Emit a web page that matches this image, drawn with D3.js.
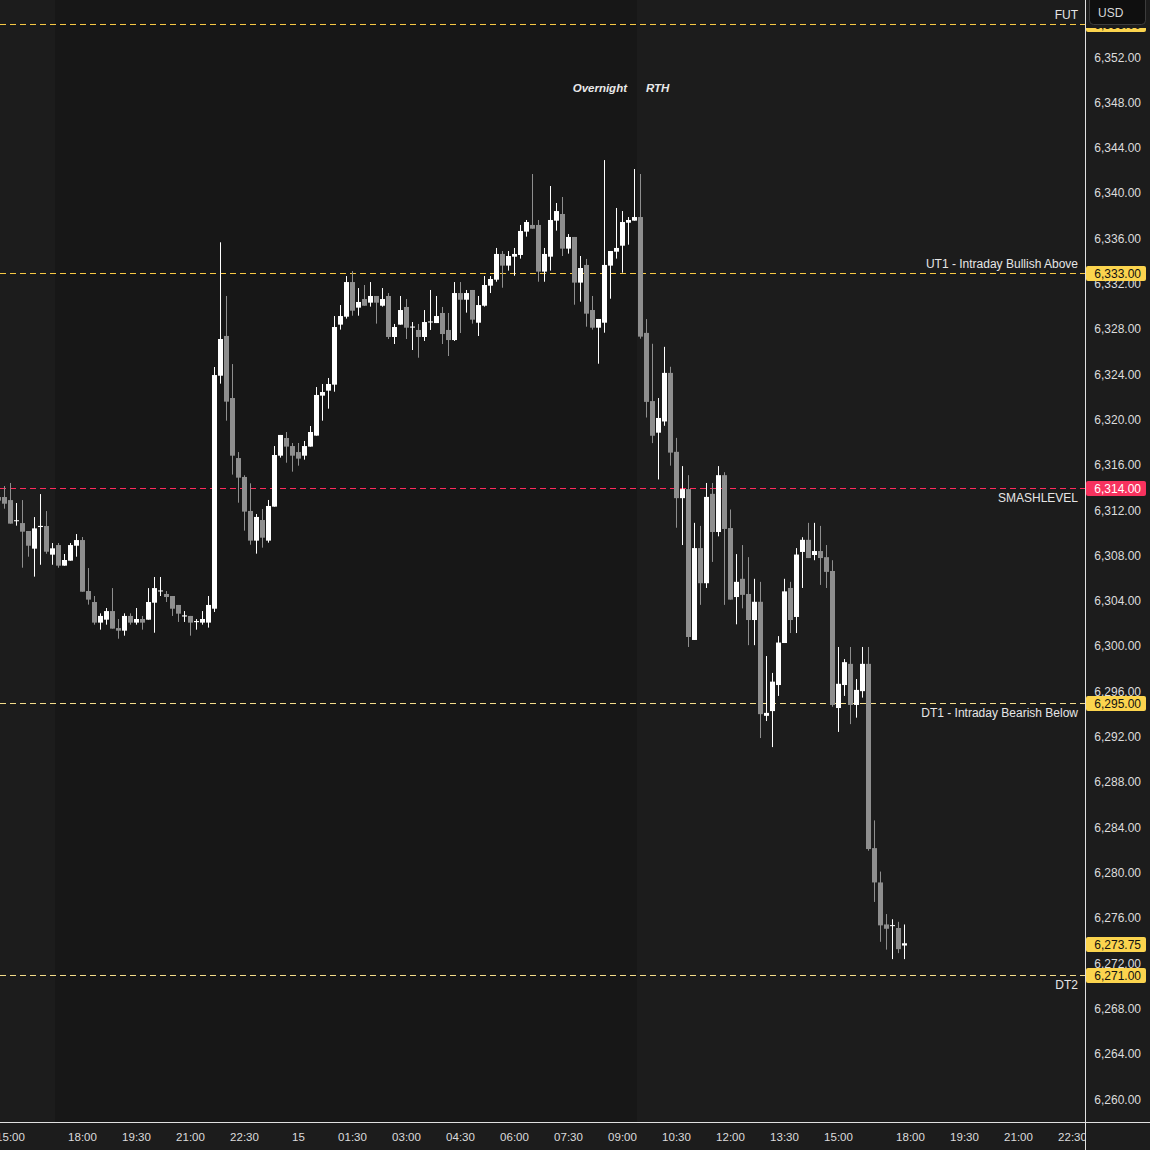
<!DOCTYPE html>
<html>
<head>
<meta charset="utf-8">
<script src="https://cdn.jsdelivr.net/npm/d3@7/dist/d3.min.js"></script>
<style>
  html, body { margin: 0; padding: 0; background: #1c1c1c; }
  svg { display: block; font-family: "Liberation Sans", Arial, sans-serif; }
</style>
</head>
<body>
<svg id="chart" width="1150" height="1150"></svg>
<script>
// 10 minute ES bars, index 0 = 18:00 open of the 15th
const firstBar = -14;
const opens = [6313.15,6313.15,6312.88,6311.05,6310.85,6310.15,6308.59,6310.50,6310.59,6308.06,6308.91,6307.09,6307.53,6308.85,
  6309.35,6304.85,6303.88,6302.06,6302.32,6303.08,6301.58,6301.35,6302.65,6302.06,6302.38,6302.32,6303.82,6304.85,6304.59,6304.41,
  6303.62,6302.60,6302.65,6302.10,6302.06,6302.06,6303.29,6323.86,6327.37,6321.89,6316.59,6314.92,6311.92,6309.30,6311.12,6309.30,
  6312.30,6316.80,6318.36,6317.65,6317.12,6316.80,6317.60,6318.57,6322.10,6322.54,6323.07,6328.37,6329.07,6332.13,6329.87,6330.63,
  6330.31,6330.90,6330.04,6330.90,6327.28,6328.37,6329.93,6328.13,6327.90,6327.28,6328.60,6328.51,6329.40,6327.90,6327.01,6331.16,
  6330.57,6331.43,6328.54,6330.04,6331.81,6332.34,6334.61,6333.58,6334.37,6334.52,6336.58,6337.17,6337.17,6333.05,6334.37,6337.55,
  6338.14,6335.08,6336.11,6332.08,6333.64,6329.66,6328.10,6328.54,6333.58,6334.81,6335.34,6337.37,6337.55,6337.87,6327.64,6321.62,
  6318.83,6319.82,6324.11,6317.14,6313.05,6313.85,6300.53,6308.64,6305.54,6313.43,6310.06,6315.08,6310.41,6304.32,6305.93,6304.59,
  6302.29,6303.90,6293.83,6294.25,6296.55,6300.26,6305.12,6302.56,6308.30,6309.37,6308.03,6308.38,6307.84,6306.62,6294.52,6296.55,
  6298.42,6294.79,6296.01,6298.42,6282.15,6279.12,6275.41,6275.30,6275.10,6273.55];
const highs = [6314.00,6314.12,6314.39,6312.62,6312.88,6310.15,6311.38,6313.41,6311.91,6309.09,6309.09,6308.12,6309.09,6309.88,
  6309.62,6306.88,6304.41,6302.88,6303.35,6305.11,6302.38,6302.88,6302.88,6303.35,6302.65,6305.11,6306.09,6306.09,6304.85,6304.41,
  6303.62,6303.08,6302.65,6302.38,6303.08,6304.41,6324.63,6335.64,6330.90,6324.89,6317.12,6315.07,6314.36,6311.65,6312.09,6312.89,
  6317.65,6318.63,6318.89,6317.92,6317.92,6318.10,6319.42,6322.86,6323.13,6323.66,6329.13,6330.10,6332.66,6333.10,6331.60,6331.87,
  6332.13,6330.90,6331.60,6331.16,6328.43,6330.90,6330.63,6328.60,6328.43,6329.66,6331.43,6330.90,6329.93,6329.40,6332.13,6332.13,
  6331.43,6331.43,6330.90,6332.66,6332.66,6335.14,6334.87,6334.87,6335.14,6337.17,6337.61,6341.67,6337.61,6335.14,6340.61,6339.11,
  6339.64,6336.37,6336.11,6334.43,6334.17,6330.90,6328.87,6342.90,6334.87,6338.67,6338.40,6337.87,6342.11,6341.67,6328.86,6326.68,
  6321.89,6326.41,6324.65,6318.37,6315.88,6315.08,6310.87,6310.60,6314.39,6314.39,6315.88,6315.34,6312.05,6308.11,6308.91,6307.84,
  6305.93,6305.66,6299.11,6297.62,6300.87,6305.93,6305.66,6308.64,6309.60,6310.87,6310.87,6310.60,6308.91,6307.57,6299.91,6298.84,
  6299.91,6297.08,6299.91,6299.91,6284.60,6280.08,6276.33,6275.87,6275.64,6275.41];
const lows = [6312.70,6312.12,6310.80,6310.62,6306.91,6307.88,6306.12,6307.17,6308.14,6307.17,6306.91,6307.09,6307.53,6307.88,
  6304.79,6303.65,6301.88,6301.44,6301.88,6301.53,6300.64,6300.91,6301.88,6301.88,6301.44,6302.32,6301.17,6304.41,6303.88,6302.65,
  6302.12,6302.12,6300.91,6301.44,6301.88,6301.62,6303.00,6323.16,6319.89,6315.13,6312.65,6310.18,6308.94,6308.15,6308.68,6309.12,
  6312.30,6316.63,6316.18,6315.39,6315.92,6316.45,6317.60,6318.57,6319.89,6320.95,6322.45,6327.93,6328.90,6329.16,6329.16,6330.04,
  6329.96,6328.46,6329.96,6327.10,6326.66,6328.37,6327.10,6326.13,6325.45,6326.93,6327.90,6328.51,6326.66,6325.60,6326.93,6327.63,
  6329.43,6328.46,6327.37,6329.96,6331.16,6332.16,6331.63,6333.14,6332.69,6334.20,6336.14,6336.84,6332.16,6332.16,6333.14,6336.67,
  6334.43,6334.64,6330.13,6330.40,6328.19,6327.93,6324.92,6327.66,6330.66,6334.20,6332.96,6335.43,6337.55,6327.13,6320.17,6317.91,
  6314.70,6319.44,6315.92,6310.44,6308.91,6299.91,6300.53,6303.63,6305.12,6307.42,6309.68,6303.63,6304.09,6301.91,6303.32,6300.07,
  6300.07,6291.87,6293.37,6291.07,6295.59,6300.26,6301.14,6301.14,6305.12,6307.76,6307.57,6305.39,6305.12,6294.63,6292.41,6295.59,
  6293.10,6293.67,6295.44,6281.92,6277.40,6273.88,6273.19,6272.35,6272.88,6272.35];
const closes = [6312.83,6312.56,6310.80,6311.10,6310.09,6308.85,6310.38,6310.60,6308.32,6308.62,6307.09,6307.59,6308.91,6309.35,
  6304.79,6304.09,6302.06,6302.65,6303.08,6301.53,6301.35,6302.65,6302.06,6302.38,6302.06,6303.88,6305.11,6304.90,6304.32,6303.29,
  6302.85,6302.70,6302.06,6302.20,6302.38,6303.62,6323.92,6327.10,6321.57,6316.80,6314.86,6311.86,6309.30,6311.39,6309.56,6312.36,
  6316.86,6318.63,6317.60,6316.80,6316.54,6317.65,6318.89,6322.16,6322.42,6323.13,6328.16,6329.13,6332.13,6329.60,6330.37,6330.04,
  6330.90,6330.31,6330.63,6327.28,6328.16,6329.66,6328.10,6328.20,6327.28,6328.60,6328.65,6329.13,6327.54,6327.01,6331.16,6330.57,
  6331.16,6328.81,6330.10,6331.87,6332.40,6334.61,6333.58,6334.43,6334.61,6336.64,6337.43,6336.84,6333.05,6334.61,6337.61,6338.40,
  6335.08,6336.11,6332.08,6333.37,6329.34,6328.10,6328.87,6333.64,6334.87,6335.14,6337.43,6337.61,6337.87,6327.31,6321.55,6318.56,
  6320.13,6324.11,6317.07,6313.05,6313.85,6300.79,6308.64,6305.54,6313.16,6310.06,6315.08,6310.33,6304.09,6305.66,6304.51,6302.29,
  6303.90,6293.98,6294.09,6296.85,6300.30,6304.82,6302.29,6308.07,6309.37,6307.76,6308.38,6307.76,6306.54,6294.79,6296.66,6298.57,
  6294.79,6296.12,6298.42,6282.07,6279.12,6275.33,6275.03,6275.35,6273.23,6273.75];

// time axis (bar index -> label)
const timeTickIdx = [-12, 0, 9, 18, 27, 36, 45, 54, 63, 72, 81, 90, 99, 108, 117, 126, 138, 147, 156, 165];
const timeTickLabels = ["15:00","18:00","19:30","21:00","22:30","15","01:30","03:00","04:30","06:00","07:30",
  "09:00","10:30","12:00","13:30","15:00","18:00","19:30","21:00","22:30"];

const priceTicks = [6260,6264,6268,6272,6276,6280,6284,6288,6292,6296,6300,6304,6308,6312,6316,6320,
  6324,6328,6332,6336,6340,6344,6348,6352,6356];

// overnight session span (bar index units)
const overnightStart = [-4.5];
const overnightEnd = [92.5];

// key levels
const levelNames = ["FUT", "UT1 - Intraday Bullish Above", "SMASHLEVEL", "DT1 - Intraday Bearish Below", "DT2"];
const levelValues = [6355, 6333, 6314, 6295, 6271];
const levelTextBelow = [false, false, true, true, true];
const levelColors = ["#f7c843", "#f7c843", "#ff2a5c", "#f3dc8a", "#f3dc8a"];
const levelBoxColors = ["#fbd44e", "#fbd44e", "#f7325e", "#fbd44e", "#fbd44e"];
const lastPrice = 6273.75;

const W = 1150, H = 1150, plotR = 1085, plotB = 1122;
const x = d3.scaleLinear().domain([0, 138]).range([82, 910]);
const y = d3.scaleLinear().domain([6260, 6352]).range([1099, 57]);
const py = v => Math.ceil(y(v));   // pixel row used for price lines/labels
const fmt = d3.format(",.2f");

const svg = d3.select("#chart");
svg.append("rect").attr("width", W).attr("height", H).attr("fill", "#1c1c1c");

const defs = svg.append("defs");
defs.append("clipPath").attr("id", "plotClip")
  .append("rect").attr("x", 0).attr("y", 0).attr("width", plotR).attr("height", plotB);
defs.append("clipPath").attr("id", "timeClip")
  .append("rect").attr("x", 0).attr("y", plotB).attr("width", plotR).attr("height", H - plotB);

const plot = svg.append("g").attr("clip-path", "url(#plotClip)");

plot.selectAll("rect.session")
  .data(overnightStart.map((s, i) => ({ s, e: overnightEnd[i] })))
  .join("rect")
  .attr("class", "session")
  .attr("x", d => x(d.s))
  .attr("y", 0)
  .attr("width", d => x(d.e) - x(d.s))
  .attr("height", plotB)
  .attr("fill", "#171717");

plot.append("text")
  .attr("x", x(92.5) - 10).attr("y", 92)
  .attr("text-anchor", "end")
  .attr("font-size", 11.5).attr("font-style", "italic").attr("font-weight", "bold")
  .attr("fill", "#e8e8e8")
  .text("Overnight");
plot.append("text")
  .attr("x", x(92.5) + 9).attr("y", 92)
  .attr("font-size", 11.5).attr("font-style", "italic").attr("font-weight", "bold")
  .attr("fill", "#e8e8e8")
  .text("RTH");

// level lines
const levels = levelNames.map((name, i) => ({
  name, v: levelValues[i], below: levelTextBelow[i], color: levelColors[i], box: levelBoxColors[i]
}));

plot.selectAll("line.level")
  .data(levels)
  .join("line")
  .attr("class", "level")
  .attr("x1", 0).attr("x2", plotR)
  .attr("y1", d => py(d.v) + 0.5)
  .attr("y2", d => py(d.v) + 0.5)
  .attr("stroke", d => d.color)
  .attr("stroke-width", 1)
  .attr("stroke-dasharray", "6,4");

plot.selectAll("text.levelName")
  .data(levels)
  .join("text")
  .attr("class", "levelName")
  .attr("x", 1078)
  .attr("y", d => py(d.v) + (d.below ? 14 : -5))
  .attr("text-anchor", "end")
  .attr("font-size", 12)
  .attr("fill", "#e6e6e6")
  .text(d => d.name);

// candles
const bars = opens.map((o, i) => ({
  k: firstBar + i, o, h: highs[i], l: lows[i], c: closes[i]
}));
const upCol = "#ffffff", downCol = "#8e8e8e";
const col = d => d.c >= d.o ? upCol : downCol;

plot.selectAll("rect.wick")
  .data(bars)
  .join("rect")
  .attr("class", "wick")
  .attr("x", d => Math.round(x(d.k)))
  .attr("y", d => y(d.h))
  .attr("width", 1)
  .attr("height", d => Math.max(1, y(d.l) - y(d.h)))
  .attr("fill", col);

plot.selectAll("rect.body")
  .data(bars)
  .join("rect")
  .attr("class", "body")
  .attr("x", d => Math.round(x(d.k)) - 2)
  .attr("y", d => y(Math.max(d.o, d.c)))
  .attr("width", 5)
  .attr("height", d => Math.max(1, Math.abs(y(d.o) - y(d.c))))
  .attr("fill", col);

// axes borders
svg.append("line").attr("x1", plotR + 0.5).attr("x2", plotR + 0.5).attr("y1", 0).attr("y2", H)
  .attr("stroke", "#e0e0e0");
svg.append("line").attr("x1", 0).attr("x2", W).attr("y1", plotB + 0.5).attr("y2", plotB + 0.5)
  .attr("stroke", "#e0e0e0");

// price axis
const yAxis = svg.append("g");
yAxis.selectAll("text")
  .data(priceTicks)
  .join("text")
  .attr("x", 1141)
  .attr("y", d => y(d) + 4.5)
  .attr("text-anchor", "end")
  .attr("font-size", 12)
  .attr("fill", "#dcdcdc")
  .text(d => fmt(d));

// price boxes for levels and last price
const boxes = levels.map(d => ({ v: d.v, fill: d.box, text: d.box === "#f7325e" ? "#ffffff" : "#111111" }));
boxes.push({ v: lastPrice, fill: "#fbd44e", text: "#111111" });
const boxG = svg.append("g").selectAll("g").data(boxes).join("g")
  .attr("transform", d => `translate(0,${py(d.v)})`);
boxG.append("rect")
  .attr("x", plotR + 1).attr("y", -7).attr("width", 60).attr("height", 15).attr("rx", 2)
  .attr("fill", d => d.fill);
boxG.append("text")
  .attr("x", 1141).attr("y", 5)
  .attr("text-anchor", "end")
  .attr("font-size", 12)
  .attr("fill", d => d.text)
  .text(d => fmt(d.v));

// currency badge panel (covers the top of the price scale)
svg.append("rect").attr("x", plotR + 1).attr("y", 0).attr("width", W - plotR - 1).attr("height", 28)
  .attr("fill", "#1c1c1c");
svg.append("rect").attr("x", 1089.5).attr("y", -4.5).attr("width", 56).attr("height", 29).attr("rx", 4)
  .attr("fill", "#0f0f0f").attr("stroke", "#3c3c3c");
svg.append("text").attr("x", 1098).attr("y", 17).attr("font-size", 12).attr("fill", "#d8d8d8").text("USD");

// time axis
svg.append("g").attr("clip-path", "url(#timeClip)")
  .selectAll("text")
  .data(timeTickIdx.map((k, i) => ({ k, t: timeTickLabels[i] })))
  .join("text")
  .attr("x", d => x(d.k) + 0.5)
  .attr("y", 1141)
  .attr("text-anchor", "middle")
  .attr("font-size", 11.5)
  .attr("fill", "#dcdcdc")
  .text(d => d.t);
</script>
</body>
</html>
